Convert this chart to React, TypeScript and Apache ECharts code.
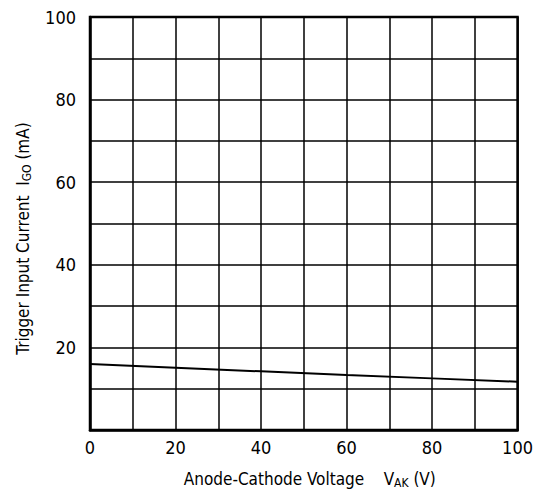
import React, { useEffect, useRef } from "react";
import * as echarts from "echarts";

const voltage = [0, 20, 40, 60, 80, 100];
const current = [16.0, 15.1, 14.2, 13.3, 12.5, 11.7];
const xTicks = [0, 20, 40, 60, 80, 100];
const yTicks = [20, 40, 60, 80, 100];

const FONT = "'Liberation Sans Narrow', 'DejaVu Sans Condensed', 'Roboto', sans-serif";

export default function App() {
  const ref = useRef<HTMLDivElement>(null);
  useEffect(() => {
    if (!ref.current) return;
    const chart = echarts.init(ref.current, null, { renderer: "svg" });
    const richText = {
      n: { fontFamily: FONT, fontSize: 17, color: "#000", lineHeight: 22 },
      s: { fontFamily: FONT, fontSize: 12, color: "#000", lineHeight: 22, padding: [7, 0, 0, 0] },
    };
    chart.setOption({
      animation: false,
      backgroundColor: "#fff",
      grid: {
        left: 90,
        right: 14,
        top: 17,
        bottom: 65,
        show: true,
        borderColor: "#000",
        borderWidth: 2.5,
        containLabel: false,
      },
      xAxis: {
        type: "value",
        min: 0,
        max: 100,
        interval: 10,
        name: "{n|Anode-Cathode Voltage    V}{s|AK}{n| (V)}",
        nameLocation: "middle",
        nameGap: 38,
        nameTextStyle: { rich: richText, padding: [0, 0, 0, 12] },
        axisLine: { show: true, lineStyle: { color: "#000", width: 2.5 } },
        axisTick: { show: false },
        splitLine: { show: true, lineStyle: { color: "#000", width: 1.5 } },
        axisLabel: {
          fontFamily: FONT,
          fontSize: 18,
          color: "#000",
          margin: 8,
          formatter: (v: number) => (xTicks.includes(v) ? String(v) : ""),
        },
      },
      yAxis: {
        type: "value",
        min: 0,
        max: 100,
        interval: 10,
        name: "{n|Trigger Input Current  I}{s|GO}{n| (mA)}",
        nameLocation: "middle",
        nameGap: 56,
        nameTextStyle: { rich: richText, padding: [0, 30, 0, 0] },
        axisLine: { show: true, lineStyle: { color: "#000", width: 2.5 } },
        axisTick: { show: false },
        splitLine: { show: true, lineStyle: { color: "#000", width: 1.5 } },
        axisLabel: {
          fontFamily: FONT,
          fontSize: 18,
          color: "#000",
          margin: 14,
          formatter: (v: number) => (yTicks.includes(v) ? String(v) : ""),
        },
      },
      series: [
        {
          type: "line",
          data: voltage.map((v, i) => [v, current[i]]),
          symbol: "none",
          lineStyle: { color: "#000", width: 2 },
        },
      ],
    });
    return () => chart.dispose();
  }, []);
  return <div ref={ref} style={{ width: 536, height: 495, position: "absolute", left: 0, top: 0 }} />;
}
